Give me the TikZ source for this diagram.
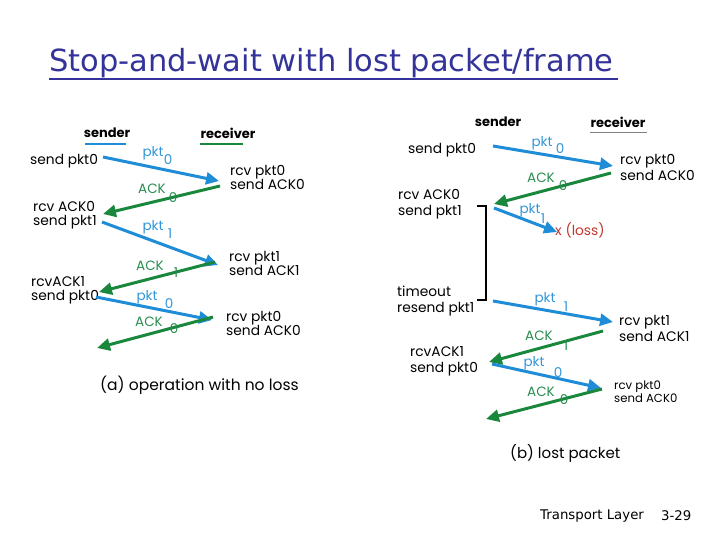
\documentclass[tikz,border=0pt]{standalone}
\usepackage{fontspec}
\setmainfont{Poppins}
\newfontfamily\titlefont{DejaVu Sans}
\usetikzlibrary{arrows.meta}
\definecolor{titleblue}{RGB}{51,51,153}
\definecolor{pktblue}{RGB}{30,140,215}
\definecolor{ackgreen}{RGB}{25,135,60}
\definecolor{pktlbl}{RGB}{50,150,215}
\definecolor{acklbl}{RGB}{40,140,80}
\definecolor{lossred}{RGB}{190,55,45}
\tikzset{
  txt/.style={font=\fontsize{13.8}{14}\selectfont, anchor=west, inner sep=0pt, align=left},
  txtb/.style={font=\fontsize{13.8}{16}\selectfont, anchor=west, inner sep=0pt, align=left},
  txts/.style={font=\fontsize{11.7}{13}\selectfont, anchor=west, inner sep=0pt, align=left},
  pl/.style={font=\fontsize{13.5}{14}\selectfont, text=pktlbl, inner sep=0pt},
  al/.style={font=\fontsize{13.5}{14}\selectfont, text=acklbl, inner sep=0pt},
  hd/.style={font=\bfseries\fontsize{13}{14}\selectfont, inner sep=0pt},
  pktarrow/.style={draw=pktblue, line width=3pt, -{Triangle[length=13pt,width=12pt]}, fill=pktblue},
  ackarrow/.style={draw=ackgreen, line width=3pt, -{Triangle[length=13pt,width=12pt]}, fill=ackgreen},
}
\begin{document}
\begin{tikzpicture}[x=1pt,y=-1pt]
\useasboundingbox (0,0) rectangle (720,540);
% title
\node[font=\titlefont\fontsize{30.5}{32}\selectfont, text=titleblue, anchor=west, inner sep=0] (title) at (49,63) {Stop-and-wait with lost packet/frame};
\draw[titleblue, line width=2pt] (49,79) -- (618,79);
% footer
\node[font=\titlefont\fontsize{13.3}{15}\selectfont, anchor=west, inner sep=0] (foot) at (540,516) {Transport Layer};
\node[font=\titlefont\fontsize{13.3}{15}\selectfont, anchor=west, inner sep=0] (page) at (661,516) {3-29};

% ===== (a) =====
\node[hd] (sa) at (107,133) {sender};
\draw[pktblue, line width=2pt] (85,144) -- (126,144);
\node[hd] (ra) at (228,133) {receiver};
\draw[ackgreen, line width=2pt] (200,144) -- (243,144);

\node[txt] (a1) at (30,161) {send pkt0};
\node[txt] (a2) at (230,177) {rcv pkt0\\send ACK0};
\node[txt] (a3) at (33,215) {rcv ACK0\\send pkt1};
\node[txt] (a4) at (229,263) {rcv pkt1\\send ACK1};
\node[txt] (a5) at (31,290) {rcvACK1\\send pkt0};
\node[txt] (a6) at (226,323) {rcv pkt0\\send ACK0};
\node[font=\fontsize{15.5}{17}\selectfont, anchor=west, inner sep=0] (acap) at (100,385) {(a) operation with no loss};

\coordinate (ap1s) at (103,157); \coordinate (ap1e) at (219,181);
\coordinate (aa1s) at (220,186); \coordinate (aa1e) at (103,214);
\coordinate (ap2s) at (102,222); \coordinate (ap2e) at (218,265);
\coordinate (aa2s) at (215,262); \coordinate (aa2e) at (99,292);
\coordinate (ap3s) at (96,297);  \coordinate (ap3e) at (212,320);
\coordinate (aa3s) at (213,317); \coordinate (aa3e) at (97,348);
\draw[pktarrow] (ap1s) -- (ap1e);
\draw[ackarrow] (aa1s) -- (aa1e);
\draw[pktarrow] (ap2s) -- (ap2e);
\draw[ackarrow] (aa2s) -- (aa2e);
\draw[pktarrow] (ap3s) -- (ap3e);
\draw[ackarrow] (aa3s) -- (aa3e);

\node[pl] (apl1) at (153,153) {pkt}; \node[pl] (aps1) at (168,160) {0};
\node[al] (aal1) at (152,189) {ACK}; \node[al] (aas1) at (173,198) {0};
\node[pl] (apl2) at (153,227) {pkt}; \node[pl] (aps2) at (170,234) {1};
\node[al] (aal2) at (150,266) {ACK}; \node[al] (aas2) at (176,273) {1};
\node[pl] (apl3) at (147,297) {pkt}; \node[pl] (aps3) at (169,304) {0};
\node[al] (aal3) at (149,322) {ACK}; \node[al] (aas3) at (174,329) {0};

% ===== (b) =====
\node[hd] (sb) at (498,122) {sender};
\node[hd] (rb) at (618,122) {receiver};
\draw[gray, line width=0.8pt] (590,132) -- (647,132);

\node[txtb] (b1) at (408,150) {send pkt0};
\node[txtb] (b2) at (620,167) {rcv pkt0\\send ACK0};
\node[txtb] (b3) at (398,204) {rcv ACK0\\send pkt1};
\node[txt, text=lossred] (loss) at (555,230) {x (loss)};
\node[txtb] (b4) at (397,301) {timeout\\resend pkt1};
\node[txtb] (b5) at (619,328) {rcv pkt1\\send ACK1};
\node[txtb] (b6) at (410,361) {rcvACK1\\send pkt0};
\node[txts] (b7) at (614,392) {rcv pkt0\\send ACK0};
\node[font=\fontsize{15}{17}\selectfont, anchor=west, inner sep=0] (bcap) at (510,453) {(b) lost packet};

\coordinate (tb1) at (477,206); \coordinate (tb2) at (486,206);
\coordinate (tb3) at (486,300); \coordinate (tb4) at (477,300);
\draw[black, line width=2pt] (tb1) -- (tb2) -- (tb3) -- (tb4);

\coordinate (bp1s) at (493,146); \coordinate (bp1e) at (613,166);
\coordinate (ba1s) at (611,173); \coordinate (ba1e) at (494,204);
\coordinate (bp2s) at (494,208); \coordinate (bp2e) at (557,232);
\coordinate (bp3s) at (493,301); \coordinate (bp3e) at (613,322);
\coordinate (ba3s) at (603,331); \coordinate (ba3e) at (489,362);
\coordinate (bp4s) at (492,364); \coordinate (bp4e) at (601,388);
\coordinate (ba4s) at (602,389); \coordinate (ba4e) at (486,419);
\draw[pktarrow] (bp1s) -- (bp1e);
\draw[ackarrow] (ba1s) -- (ba1e);
\draw[pktarrow] (bp2s) -- (bp2e);
\draw[pktarrow] (bp3s) -- (bp3e);
\draw[ackarrow] (ba3s) -- (ba3e);
\draw[pktarrow] (bp4s) -- (bp4e);
\draw[ackarrow] (ba4s) -- (ba4e);

\node[pl] (bpl1) at (542,143) {pkt}; \node[pl] (bps1) at (560,149) {0};
\node[al] (bal1) at (541,178) {ACK}; \node[al] (bas1) at (563,186) {0};
\node[pl] (bpl2) at (530,210) {pkt}; \node[pl] (bps2) at (543,219) {1};
\node[pl] (bpl3) at (545,299) {pkt}; \node[pl] (bps3) at (566,307) {1};
\node[al] (bal3) at (539,336) {ACK}; \node[al] (bas3) at (566,346) {1};
\node[pl] (bpl4) at (534,363) {pkt}; \node[pl] (bps4) at (558,373) {0};
\node[al] (bal4) at (541,392) {ACK}; \node[al] (bas4) at (564,400) {0};
\end{tikzpicture}
\end{document}
